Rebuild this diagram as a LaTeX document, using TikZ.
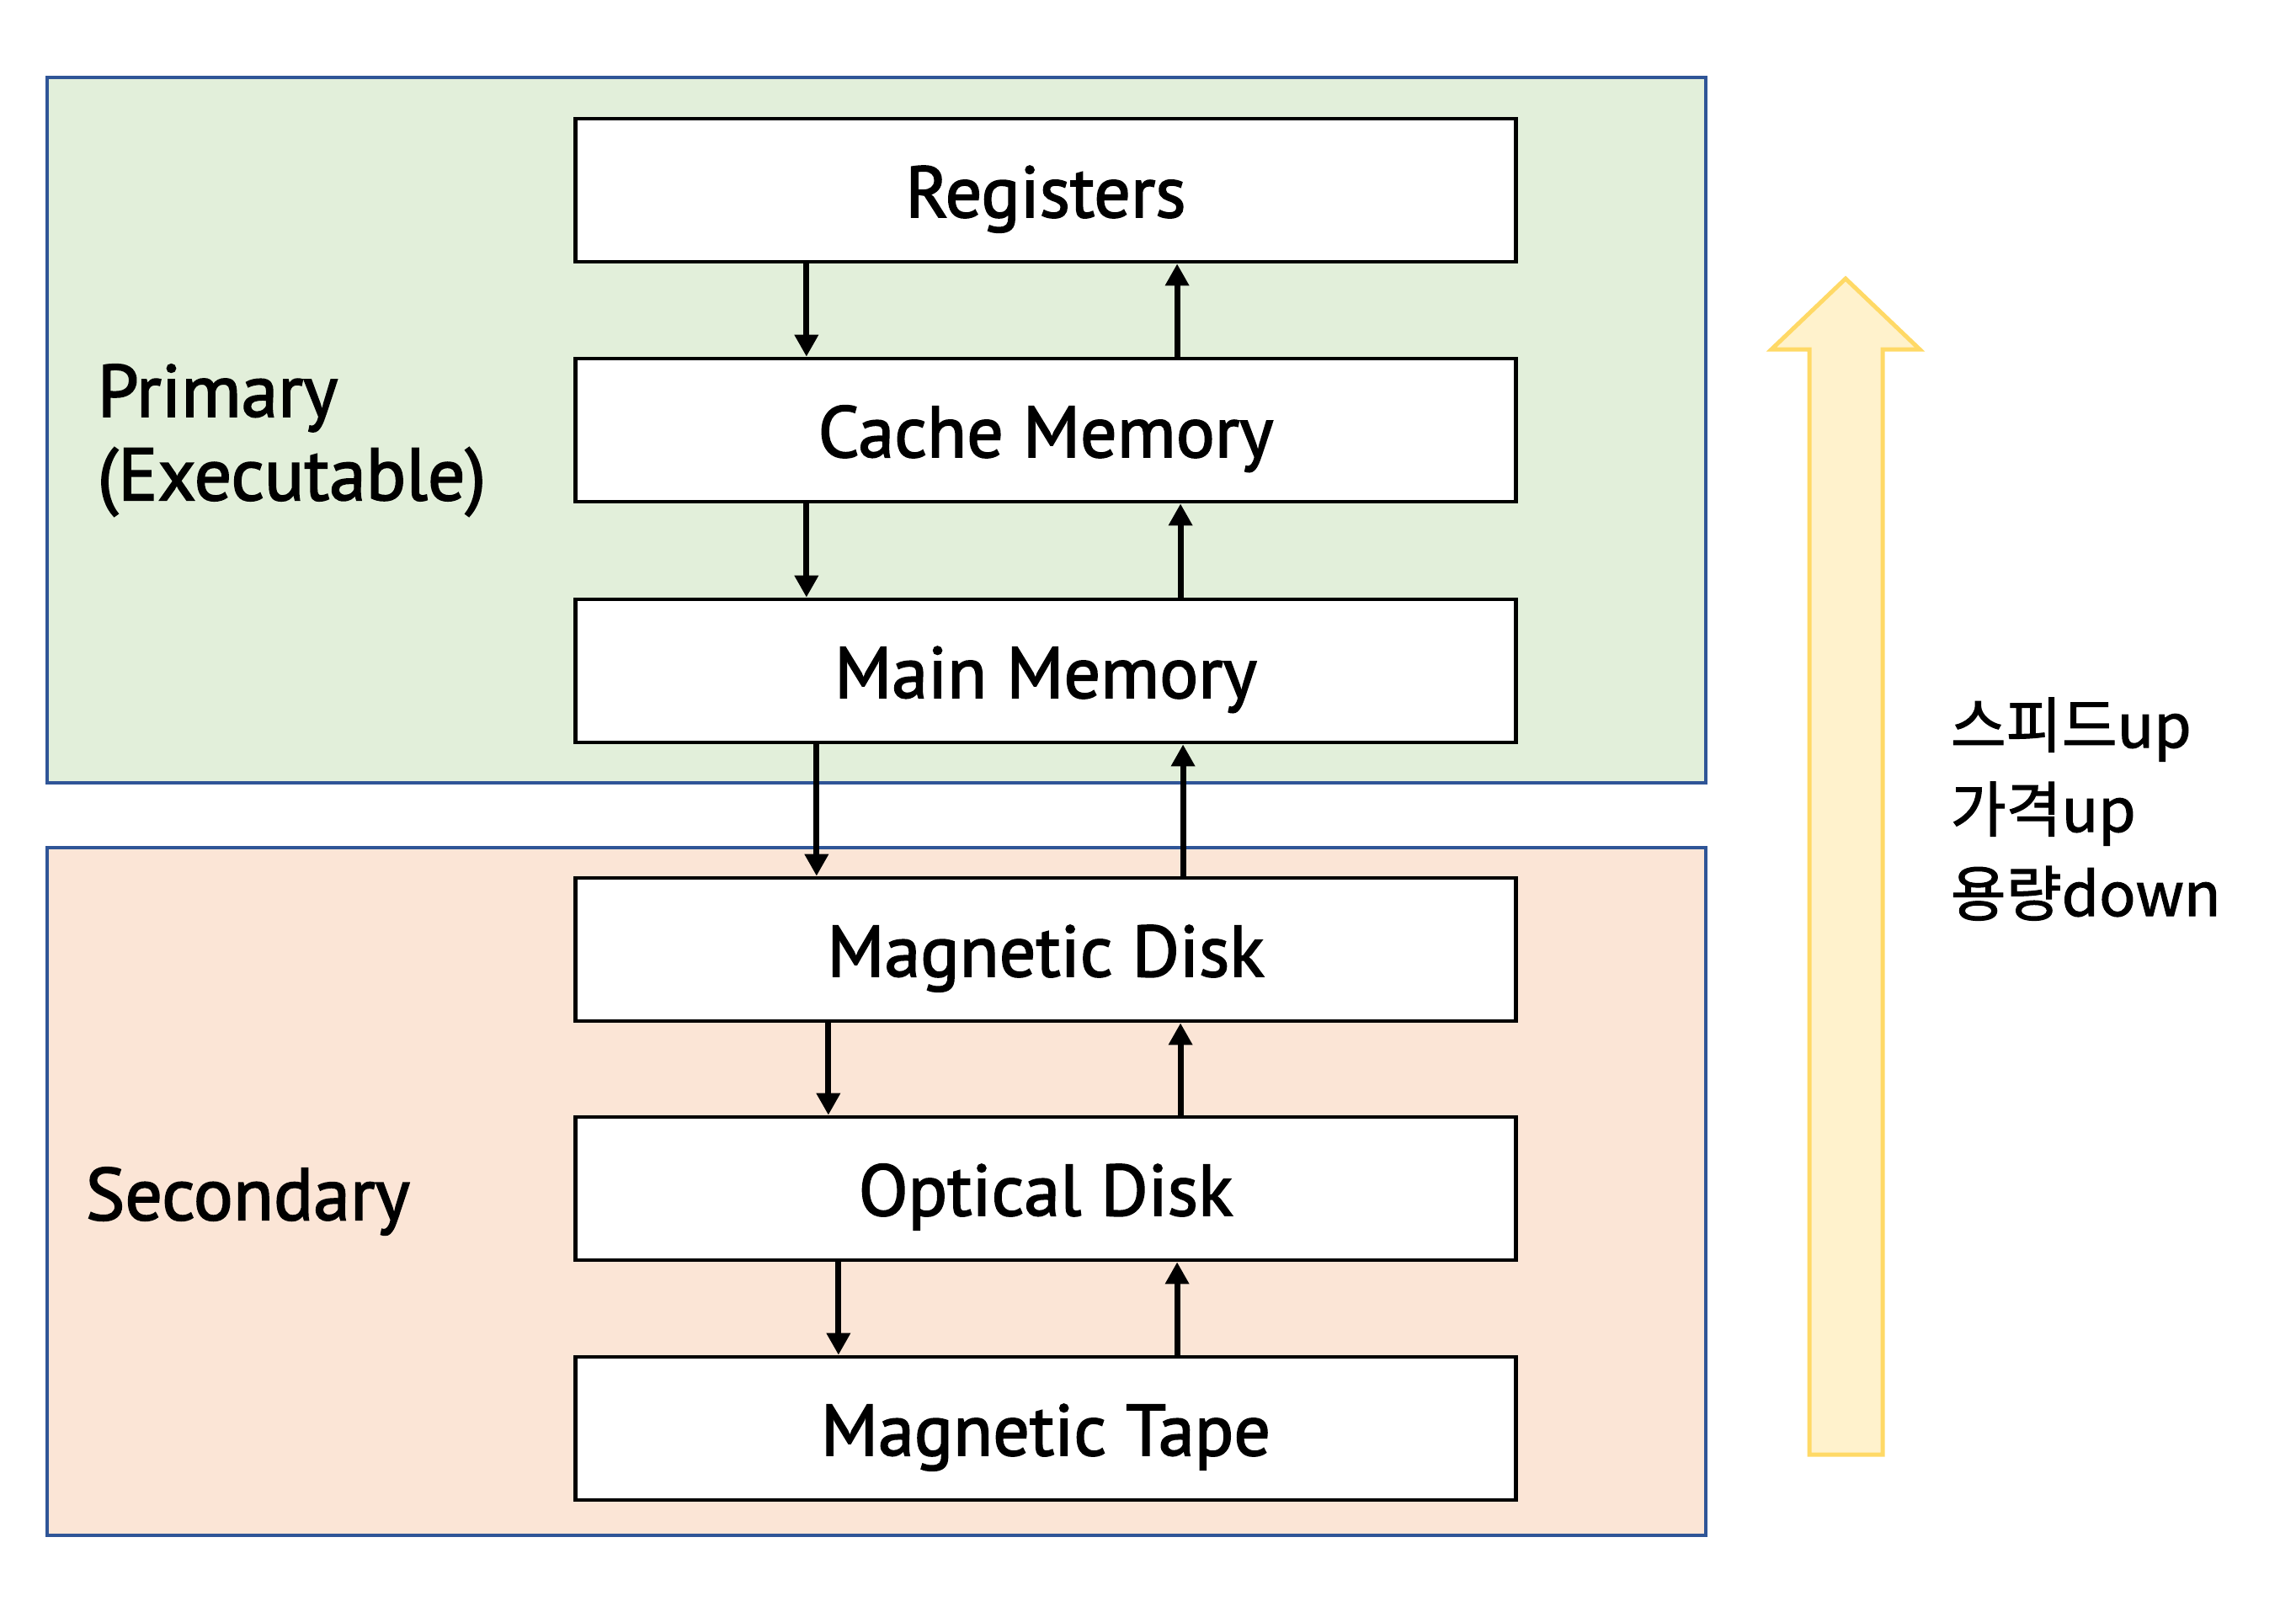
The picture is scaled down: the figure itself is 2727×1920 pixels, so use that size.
\documentclass[tikz,border=0pt]{standalone}
\usepackage{fontspec}
\setmainfont{PT Sans}[FakeBold=2]
\newfontfamily\kofont{Noto Sans CJK KR}[FakeBold=1.5]
\usetikzlibrary{arrows.meta}
\definecolor{grpgreen}{HTML}{E2EFDA}
\definecolor{grppeach}{HTML}{FBE5D6}
\definecolor{grpblue}{HTML}{2F5597}
\definecolor{arrowedge}{HTML}{FFD966}
\definecolor{arrowfill}{HTML}{FFF2CC}
\tikzset{
  memorybox/.style={draw=black, line width=1.3pt, fill=white,
    minimum width=11.16cm, minimum height=1.70cm, inner sep=0pt,
    text height=18.2pt, text depth=0pt,
    font=\fontsize{24.5}{28}\selectfont},
  flow/.style={line width=2pt, -{Triangle[length=7.4pt,width=7.7pt]}},
  group/.style={draw=grpblue, line width=1.1pt},
  sidelabel/.style={font=\fontsize{25}{28.2}\selectfont, inner sep=0pt, align=left},
  kolabel/.style={font=\kofont\fontsize{20.4}{28.45}\selectfont, inner sep=0pt, align=left},
  bigarrow/.style={line width=1.42pt, draw=arrowedge, fill=arrowfill, line join=miter}
}
\begin{document}
\begin{tikzpicture}[x=0.01cm,y=-0.01cm]
\useasboundingbox (0,0) rectangle (2727,1920);
\fill[white] (0,0) rectangle (2727,1920);
% group regions
\draw[group, fill=grpgreen] (56,92) rectangle (2026,930);
\draw[group, fill=grppeach] (56,1007) rectangle (2026,1824);
% side labels
\node[sidelabel, anchor=north west] (primarylbl) at (115,432) {Primary\\(Executable)};
\node[sidelabel, anchor=north west] (secondarylbl) at (101,1386) {Secondary};
% memory hierarchy
\node[memorybox] (reg) at (1242,226) {Registers};
\node[memorybox] (cache) at (1242,511) {Cache Memory};
\node[memorybox] (main) at (1242,797) {Main Memory};
\node[memorybox] (mdisk) at (1242,1128) {Magnetic Disk};
\node[memorybox] (odisk) at (1242,1412) {Optical Disk};
\node[memorybox] (tape) at (1242,1697) {Magnetic Tape};
% connectors
\draw[flow] ([xshift=-2.84cm]reg.south) -- ([xshift=-2.84cm]cache.north);
\draw[flow] ([xshift=1.56cm]cache.north) -- ([xshift=1.56cm]reg.south);
\draw[flow] ([xshift=-2.84cm]cache.south) -- ([xshift=-2.84cm]main.north);
\draw[flow] ([xshift=1.60cm]main.north) -- ([xshift=1.60cm]cache.south);
\draw[flow] ([xshift=-2.72cm]main.south) -- ([xshift=-2.72cm]mdisk.north);
\draw[flow] ([xshift=1.63cm]mdisk.north) -- ([xshift=1.63cm]main.south);
\draw[flow] ([xshift=-2.58cm]mdisk.south) -- ([xshift=-2.58cm]odisk.north);
\draw[flow] ([xshift=1.60cm]odisk.north) -- ([xshift=1.60cm]mdisk.south);
\draw[flow] ([xshift=-2.46cm]odisk.south) -- ([xshift=-2.46cm]tape.north);
\draw[flow] ([xshift=1.56cm]tape.north) -- ([xshift=1.56cm]odisk.south);
% big arrow
\draw[bigarrow] (2192,331) -- (2280,415) -- (2236,415) -- (2236,1728)
  -- (2149,1728) -- (2149,415) -- (2104,415) -- cycle;
\node[kolabel, anchor=north west] (kolbl) at (2316,828) {스피드up\\가격up\\용량down};
\end{tikzpicture}
\end{document}
